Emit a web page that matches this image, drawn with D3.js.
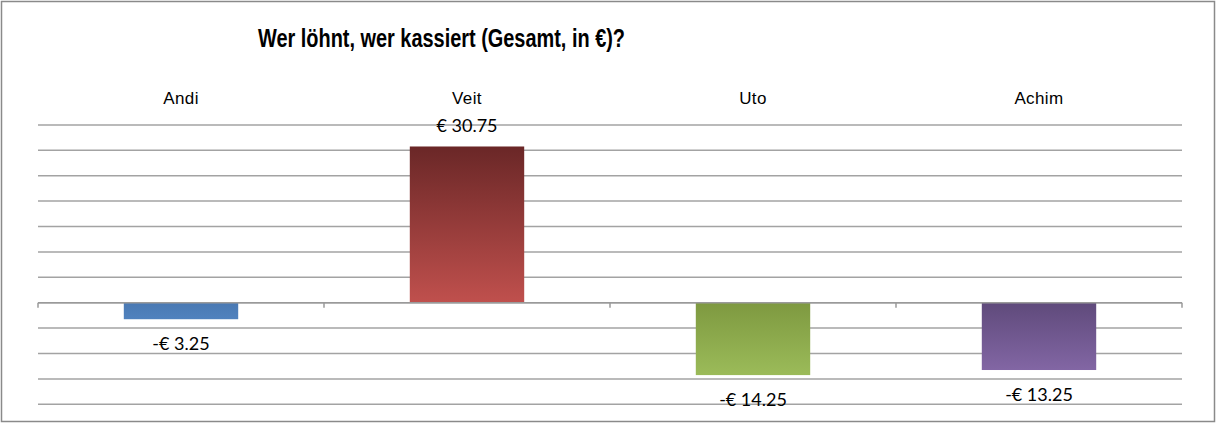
<!DOCTYPE html>
<html>
<head>
<meta charset="utf-8">
<script src="https://cdn.jsdelivr.net/npm/d3@7"></script>
<style>
  html, body { margin: 0; padding: 0; background: #fff; }
  svg { display: block; }
</style>
</head>
<body>
<svg id="chart" width="1218" height="424"></svg>
<script>
const categories = ["Andi", "Veit", "Uto", "Achim"];
const values = [-3.25, 30.75, -14.25, -13.25];
const valueLabels = ["-€ 3.25", "€ 30.75", "-€ 14.25", "-€ 13.25"];
const gridTicks = [-20, -15, -10, -5, 0, 5, 10, 15, 20, 25, 30, 35];
const colorsTop = ["#4a79b3", "#6a2727", "#7e9940", "#5f4a7b"];
const colorsBottom = ["#5082be", "#c0504d", "#9bbb59", "#8266a4"];
const title = "Wer löhnt, wer kassiert (Gesamt, in €)?";

const svg = d3.select("#chart");

svg.append("rect")
  .attr("x", 1.5).attr("y", 1.5)
  .attr("width", 1213).attr("height", 420)
  .attr("fill", "#fff").attr("stroke", "#8a8a8a").attr("stroke-width", 1.5);

const left = 38, right = 1182;
const x = d3.scaleBand().domain(categories).range([left, right]).paddingInner(0.6).paddingOuter(0.3);
const y = d3.scaleLinear().domain([-20, 35]).range([404.3, 124.9]);

// gridlines
svg.append("g").selectAll("line").data(gridTicks).join("line")
  .attr("x1", left).attr("x2", right)
  .attr("y1", d => y(d)).attr("y2", d => y(d))
  .attr("stroke", "#a3a3a3").attr("stroke-width", 1.5);

// gradients
const defs = svg.append("defs");
categories.forEach((c, i) => {
  const g = defs.append("linearGradient").attr("id", "g" + i)
    .attr("x1", 0).attr("y1", 0).attr("x2", 0).attr("y2", 1);
  g.append("stop").attr("offset", "0%").attr("stop-color", colorsTop[i]);
  g.append("stop").attr("offset", "100%").attr("stop-color", colorsBottom[i]);
});

// bars
svg.append("g").selectAll("rect").data(values).join("rect")
  .attr("x", (d, i) => x(categories[i]))
  .attr("width", x.bandwidth())
  .attr("y", d => y(Math.max(0, d)))
  .attr("height", d => Math.abs(y(d) - y(0)))
  .attr("fill", (d, i) => `url(#g${i})`);

// zero axis with ticks at category boundaries
const boundaries = d3.range(categories.length + 1).map(i => left + i * (right - left) / categories.length);
const axisG = svg.append("g");
axisG.append("line").attr("x1", left).attr("x2", right)
  .attr("y1", y(0)).attr("y2", y(0)).attr("stroke", "#9a9a9a").attr("stroke-width", 1.5);
axisG.selectAll("line.tick").data(boundaries).join("line").attr("class", "tick")
  .attr("x1", d => d).attr("x2", d => d)
  .attr("y1", y(0)).attr("y2", y(0) + 5)
  .attr("stroke", "#9a9a9a").attr("stroke-width", 1.5);

// category labels at top
svg.append("g").selectAll("text").data(categories).join("text")
  .attr("x", d => x(d) + x.bandwidth() / 2)
  .attr("y", 104)
  .attr("text-anchor", "middle")
  .attr("font-family", "'Liberation Sans', Arial, sans-serif")
  .attr("font-size", 17)
  .attr("letter-spacing", 0.4)
  .attr("fill", "#000")
  .text(d => d);

// value labels
svg.append("g").selectAll("text").data(values).join("text")
  .attr("x", (d, i) => x(categories[i]) + x.bandwidth() / 2)
  .attr("y", d => d >= 0 ? y(d) - 14 : y(d) + 31)
  .attr("text-anchor", "middle")
  .attr("font-family", "Lato, 'Open Sans', sans-serif")
  .attr("font-size", 18)
  .attr("fill", "#000")
  .text((d, i) => valueLabels[i]);

// title
svg.append("text")
  .attr("x", 441.5).attr("y", 46.5)
  .attr("text-anchor", "middle")
  .attr("font-family", "'Liberation Sans Narrow', 'Liberation Sans', Arial, sans-serif")
  .attr("font-weight", "bold")
  .attr("font-size", 25)
  .attr("textLength", 367)
  .attr("lengthAdjust", "spacingAndGlyphs")
  .attr("fill", "#000")
  .text(title);
</script>
</body>
</html>
